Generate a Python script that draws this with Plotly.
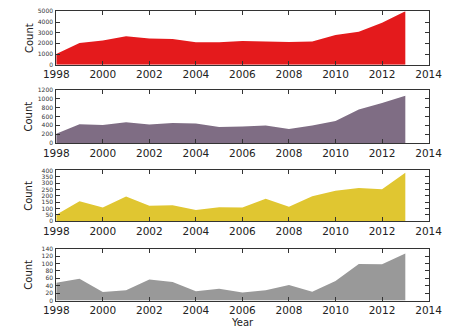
import plotly.graph_objects as go

years = list(range(1998, 2014))
red_counts = [1000, 2030, 2260, 2660, 2460, 2400, 2100, 2100, 2210, 2140, 2130, 2180, 2780, 3080, 3920, 5000]
purple_counts = [210, 425, 410, 470, 418, 455, 440, 365, 373, 395, 320, 400, 500, 760, 910, 1070]
yellow_counts = [52, 157, 109, 195, 122, 127, 89, 111, 109, 177, 114, 197, 240, 261, 253, 382]
gray_counts = [48, 59, 23, 28, 57, 50, 25, 32, 22, 28, 42, 24, 53, 99, 98, 127]

series = [
    (red_counts, "#e41a1c", [0, 5000], 1000),
    (purple_counts, "#7f6d84", [0, 1200], 200),
    (yellow_counts, "#e0c631", [0, 400], 50),
    (gray_counts, "#999999", [0, 140], 20),
]

W, H = 452, 332
x0, x1 = 46, 442
panels_px = [(7.5, 62), (88, 142), (170, 222), (250, 303)]

fig = go.Figure()
frame = "#333333"
txt = "#222222"
for i, (vals, col, rng, dt) in enumerate(series):
    n = i + 1
    xa = "x" if n == 1 else f"x{n}"
    ya = "y" if n == 1 else f"y{n}"
    fig.add_trace(go.Scatter(x=years, y=vals, xaxis=xa, yaxis=ya, mode="lines",
                             fill="tozeroy", fillcolor=col, line=dict(width=0, color=col),
                             showlegend=False, hoverinfo="skip"))
    top, bot = panels_px[i]
    xkey = "xaxis" if n == 1 else f"xaxis{n}"
    ykey = "yaxis" if n == 1 else f"yaxis{n}"
    fig.update_layout({
        xkey: dict(domain=[x0 / W, x1 / W], range=[1998, 2014], dtick=2, tick0=1998,
                   anchor=ya, showgrid=False, zeroline=False, showline=True, linecolor=frame,
                   linewidth=1, mirror="ticks", ticks="inside", ticklen=4, tickcolor=frame,
                   ticklabeloverflow="allow",
                   tickfont=dict(family="DejaVu Sans", size=10.5, color=txt)),
        ykey: dict(domain=[1 - bot / H, 1 - top / H], range=rng, dtick=dt, tick0=0,
                   anchor=xa, showgrid=False, zeroline=False, showline=True, linecolor=frame,
                   linewidth=1, mirror="ticks", ticks="inside", ticklen=4, tickcolor=frame,
                   ticklabeloverflow="allow", ticklabelstandoff=1,
                   tickfont=dict(family="DejaVu Sans", size=6, color="#333333")),
    })
    fig.add_annotation(text="Count", textangle=-90, xref="paper", yref="paper",
                       x=17 / W, y=1 - (top + bot) / 2 / H, xanchor="center", yanchor="middle",
                       showarrow=False, font=dict(family="DejaVu Sans", size=10, color=txt))

fig.add_annotation(text="Year", xref="paper", yref="paper", x=(x0 + x1) / 2 / W, y=1 - 325.5 / H,
                   xanchor="center", yanchor="middle",
                   showarrow=False, font=dict(family="DejaVu Sans", size=10, color=txt))

fig.update_layout(width=W, height=H, margin=dict(l=0, r=0, t=0, b=0),
                  paper_bgcolor="white", plot_bgcolor="white")
fig.write_html("out.html")
